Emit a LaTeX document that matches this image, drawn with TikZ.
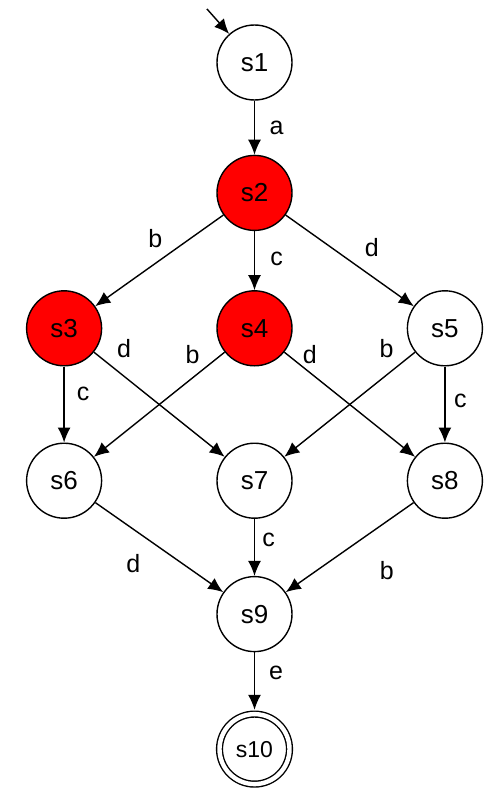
\documentclass[tikz,border=0pt]{standalone}
\usepackage{fontspec}
\setmainfont{Liberation Sans}
\usetikzlibrary{arrows.meta,positioning}

\begin{document}
\begin{tikzpicture}[
  node distance=54pt and 114pt,
  state/.style={draw, circle, line width=1.4pt, minimum size=75pt, inner sep=0pt,
                font=\fontsize{26}{30}\selectfont},
  hot/.style={state, fill=red},
  final/.style={state, double, double distance=4.4pt, minimum size=70pt,
                outer sep=4.3pt, font=\fontsize{23}{27}\selectfont},
  lab/.style={font=\fontsize{25}{29}\selectfont, inner sep=0pt},
  arr/.style={-{Latex[length=15pt, width=13pt]}, line width=1.4pt}
]
\useasboundingbox (0,0) rectangle (500pt,-792pt);
\node[state] (s1) at (254.5pt,-62.5pt) {s1};
\node[hot, below=54pt of s1] (s2) {s2};
\node[hot, below=59pt of s2] (s4) {s4};
\node[hot, left=of s4] (s3) {s3};
\node[state, right=of s4] (s5) {s5};
\node[state, below=76pt of s4] (s7) {s7};
\node[state, left=of s7] (s6) {s6};
\node[state, right=of s7] (s8) {s8};
\node[state, below=57pt of s7] (s9) {s9};
\node[final, below=57.5pt of s9] (s10) {s10};
\coordinate[above left=26.6pt and 20.6pt of s1.north west] (init);
\draw[arr] (init) -- (s1);
\draw[arr] (s1) -- node[lab, xshift=22pt] {a} (s2);
\draw[arr] (s2) -- node[lab, xshift=-4pt, yshift=22pt] {b} (s3);
\draw[arr] (s2) -- node[lab, xshift=22pt, yshift=2pt] {c} (s4);
\draw[arr] (s2) -- node[lab, xshift=22pt, yshift=13pt] {d} (s5);
\draw[arr] (s3) -- node[lab, xshift=19pt, yshift=11pt] {c} (s6);
\draw[arr] (s3) -- node[lab, pos=0.15, xshift=10.6pt, yshift=19.5pt] {d} (s7);
\draw[arr] (s4) -- node[lab, pos=0.15, xshift=-12.4pt, yshift=13.5pt] {b} (s6);
\draw[arr] (s4) -- node[lab, pos=0.15, xshift=6pt, yshift=13.5pt] {d} (s8);
\draw[arr] (s5) -- node[lab, pos=0.15, xshift=-9pt, yshift=19.5pt] {b} (s7);
\draw[arr] (s5) -- node[lab, xshift=15.5pt, yshift=4pt] {c} (s8);
\draw[arr] (s6) -- node[lab, xshift=-26pt, yshift=-16.5pt] {d} (s9);
\draw[arr] (s7) -- node[lab, xshift=14pt, yshift=8pt] {c} (s9);
\draw[arr] (s8) -- node[lab, xshift=37pt, yshift=-23.5pt] {b} (s9);
\draw[arr] (s9) -- node[lab, xshift=21.5pt, yshift=8pt] {e} (s10);
\end{tikzpicture}
\end{document}
